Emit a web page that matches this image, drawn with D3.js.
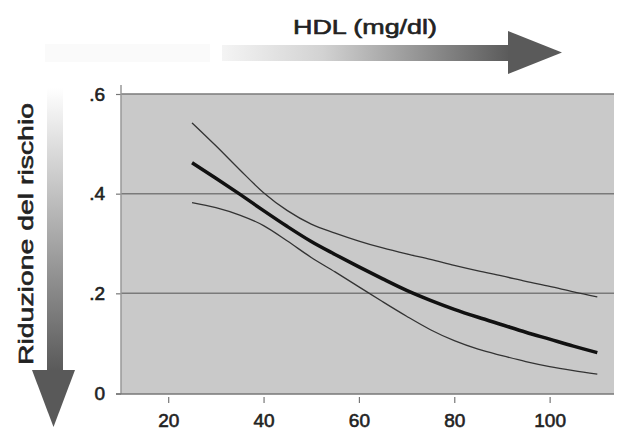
<!DOCTYPE html>
<html>
<head>
<meta charset="utf-8">
<script src="https://cdn.jsdelivr.net/npm/d3@7"></script>
<style>
  html, body { margin: 0; padding: 0; background: #ffffff; }
  svg { display: block; font-family: "Liberation Sans", Arial, sans-serif; }
</style>
</head>
<body>
<svg id="chart" width="619" height="434"></svg>
<script>
// ---- data ----
const hdl = [25, 30, 35, 40, 45, 50, 55, 60, 65, 70, 75, 80, 85, 90, 95, 100, 105, 110];
const riskReduction = [0.462, 0.431, 0.399, 0.366, 0.334, 0.304, 0.278, 0.253, 0.229, 0.206, 0.186, 0.168, 0.152, 0.137, 0.122, 0.108, 0.094, 0.081];
const upperBound = [0.542, 0.496, 0.448, 0.402, 0.366, 0.339, 0.321, 0.305, 0.291, 0.279, 0.268, 0.256, 0.245, 0.235, 0.224, 0.214, 0.203, 0.193];
const lowerBound = [0.382, 0.372, 0.357, 0.336, 0.305, 0.272, 0.243, 0.213, 0.183, 0.154, 0.127, 0.105, 0.088, 0.075, 0.063, 0.053, 0.045, 0.038];
const xTicks = [20, 40, 60, 80, 100];
const yTicks = [0, 0.2, 0.4, 0.6];
const yTickLabels = ["0", ".2", ".4", ".6"];
const xTitle = "HDL (mg/dl)";
const yTitle = "Riduzione del rischio";

(function () {
// ---- layout ----
const svg = d3.select("#chart");
const pL = 121, pR = 614, pT = 94, pB = 394;
const x = d3.scaleLinear().domain([10.1, 113.5]).range([pL, pR]);
const y = d3.scaleLinear().domain([0, 0.6]).range([393, pT]);

const defs = svg.append("defs");
const gH = defs.append("linearGradient").attr("id", "gH").attr("x1", "0%").attr("x2", "100%").attr("y1", "0%").attr("y2", "0%");
gH.append("stop").attr("offset", "0%").attr("stop-color", "#f4f4f4");
gH.append("stop").attr("offset", "35%").attr("stop-color", "#d2d2d2");
gH.append("stop").attr("offset", "100%").attr("stop-color", "#5a5a5a");
const gV = defs.append("linearGradient").attr("id", "gV").attr("x1", "0%").attr("x2", "0%").attr("y1", "0%").attr("y2", "100%");
gV.append("stop").attr("offset", "0%").attr("stop-color", "#ffffff");
gV.append("stop").attr("offset", "40%").attr("stop-color", "#bdbdbd");
gV.append("stop").attr("offset", "100%").attr("stop-color", "#595959");

// faint ghost block at top-left
svg.append("rect").attr("x", 45).attr("y", 44).attr("width", 165).attr("height", 18).attr("fill", "#fafafa");

// horizontal arrow
svg.append("rect").attr("x", 222).attr("y", 45).attr("width", 288).attr("height", 16).attr("fill", "url(#gH)");
svg.append("path").attr("d", "M508,31 L562,52.5 L508,74 Z").attr("fill", "#5a5a5a");
svg.append("text").attr("x", 293).attr("y", 34).attr("font-size", 21)
  .attr("stroke", "#222").attr("stroke-width", 0.6)
  .attr("textLength", 144).attr("lengthAdjust", "spacingAndGlyphs")
  .attr("fill", "#222").text(xTitle);

// vertical arrow
svg.append("rect").attr("x", 47).attr("y", 88).attr("width", 16).attr("height", 284).attr("fill", "url(#gV)");
svg.append("path").attr("d", "M32,370 L75,370 L53.5,427 Z").attr("fill", "#595959");
svg.append("text").attr("transform", "translate(33,365) rotate(-90)").attr("font-size", 21)
  .attr("stroke", "#222").attr("stroke-width", 0.6)
  .attr("textLength", 262).attr("lengthAdjust", "spacingAndGlyphs")
  .attr("fill", "#222").text(yTitle);

// plot background
svg.append("rect").attr("x", pL).attr("y", pT).attr("width", pR - pL).attr("height", pB - pT).attr("fill", "#c9c9c9");

// gridlines
svg.append("g").selectAll("line").data(yTicks.filter(d => d > 0)).join("line")
  .attr("x1", pL).attr("x2", pR).attr("y1", d => y(d)).attr("y2", d => y(d))
  .attr("stroke", "#7a7a7a").attr("stroke-width", 1.5);

// y axis
const yAxis = d3.axisLeft(y).tickValues(yTicks).tickFormat((d, i) => yTickLabels[i]).tickSize(5).tickPadding(11);
const gy = svg.append("g").attr("transform", `translate(${pL},0)`).call(yAxis);
gy.select(".domain").remove();
gy.selectAll(".tick line").attr("stroke", "#777").attr("stroke-width", 1.2);
gy.selectAll(".tick").filter(d => d === 0).attr("transform", `translate(0,${pB})`);
gy.selectAll("text").attr("font-size", 19).attr("stroke", "#222").attr("stroke-width", 0.6).attr("fill", "#222").attr("font-family", "Liberation Sans, Arial, sans-serif");
svg.append("line").attr("x1", pL).attr("x2", pL).attr("y1", 85).attr("y2", pB).attr("stroke", "#999").attr("stroke-width", 1.5);

// x axis
const xAxis = d3.axisBottom(x).tickValues(xTicks).tickSize(6).tickPadding(11);
const gx = svg.append("g").attr("transform", `translate(0,${pB + 3})`).call(xAxis);
gx.select(".domain").remove();
gx.selectAll(".tick line").attr("stroke", "#777").attr("stroke-width", 1.2);
gx.selectAll("text").attr("font-size", 19).attr("stroke", "#222").attr("stroke-width", 0.6).attr("fill", "#222").attr("font-family", "Liberation Sans, Arial, sans-serif");
svg.append("line").attr("x1", 116).attr("x2", pR).attr("y1", pB).attr("y2", pB).attr("stroke", "#777").attr("stroke-width", 1.5);

// curves
const line = d3.line().x((d, i) => x(hdl[i])).y(d => y(d)).curve(d3.curveMonotoneX);
svg.append("path").attr("d", line(upperBound)).attr("fill", "none").attr("stroke", "#333").attr("stroke-width", 1.3);
svg.append("path").attr("d", line(lowerBound)).attr("fill", "none").attr("stroke", "#333").attr("stroke-width", 1.3);
svg.append("path").attr("d", line(riskReduction)).attr("fill", "none").attr("stroke", "#111").attr("stroke-width", 3.5);
})();
</script>
</body>
</html>
